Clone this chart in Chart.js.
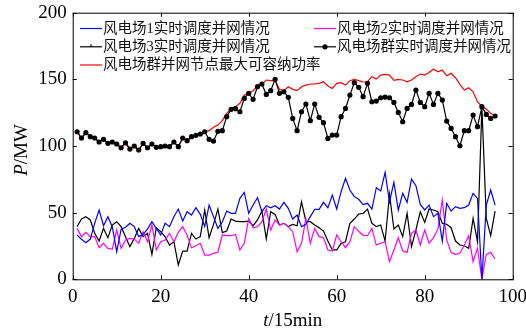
<!DOCTYPE html>
<html>
<head>
<meta charset="utf-8">
<script src="https://cdn.jsdelivr.net/npm/chart.js@4.4.0/dist/chart.umd.min.js"></script>
<style>
  html, body { margin: 0; padding: 0; background: #fff; }
</style>
</head>
<body>
<canvas id="grafica" width="526" height="333"></canvas>
<script>
// ─────────────────────────────────────────
// DATOS (t = intervalo de 15 min, 1..96)
// ─────────────────────────────────────────

const t = Array.from({ length: 96 }, (_, i) => i + 1);

const xTicks = [0, 20, 40, 60, 80, 100];
const yTicks = [0, 50, 100, 150, 200];

const nombres = [
  "风电场1实时调度并网情况",
  "风电场2实时调度并网情况",
  "风电场3实时调度并网情况",
  "风电场群实时调度并网情况",
  "风电场群并网节点最大可容纳功率"
];

const farm1 = [
  33.2, 30, 27.5, 30.2, 42, 52, 40.2, 47, 39.5, 20.7, 37.5, 39, 42, 39.5, 32, 33.7,
  37.7, 43.2, 38.2, 33.2, 42, 39.5, 47, 52.7, 43.7, 50.7, 48.2, 53.7, 48.7, 39.5, 55.7, 47,
  38.2, 43, 51.2, 49.5, 49.5, 60.7, 65.2, 49.5, 55.7, 61.2, 50.7, 55.2, 53.7, 55.2, 52.7, 57.7,
  53.2, 45.2, 48.2, 39.5, 41.2, 47, 52.5, 52.5, 57.7, 53.7, 63.2, 52.7, 65.7, 75.7, 67, 62,
  60, 56, 57, 52.7, 68.7, 66.2, 80.2, 58.2, 72.7, 52, 64.5, 57.7, 75.2, 70.2, 56.2, 52,
  55.7, 47, 49.5, 28.7, 57, 51.2, 54.5, 53.2, 53.7, 55.7, 64.5, 60.7, 0, 55.7, 67, 55.7
];

const farm2 = [
  38.2, 32, 35.2, 32, 32, 23.7, 27, 23.2, 22.7, 37, 23.2, 29.5, 30.7, 30.2, 27, 35.7,
  28.2, 40.7, 22, 28.2, 29.5, 34.5, 28.2, 35.2, 39.5, 33.2, 23.7, 25.2, 27, 18.2, 18.2, 19.5,
  20.5, 33.2, 32.7, 32.7, 33.7, 22, 27, 45.7, 38.7, 39.5, 43.2, 52.7, 37, 44.5, 40.7, 42,
  39.5, 35.7, 20.7, 27, 45.7, 27, 38.2, 32, 31.2, 22, 21.2, 33.2, 28.2, 23.7, 28.2, 39.5,
  36, 33, 32.7, 38.2, 25.7, 27, 28.2, 13.2, 22, 31.2, 21.2, 20.2, 34.5, 37, 25.7, 37,
  27, 31.2, 37.7, 59.5, 29.5, 20.2, 18.7, 19.5, 25.7, 32.7, 13.2, 23.2, 0, 18.7, 20.2, 15.2
];

const farm3 = [
  39.5, 45.2, 47, 44.5, 34.5, 28.7, 38.2, 31.2, 40.7, 43.2, 39.5, 32, 24.5, 30.7, 38.2, 32,
  34.5, 18.7, 38.7, 35.7, 32, 25.7, 28.2, 10.7, 21.2, 21.2, 34.5, 30.2, 32, 52, 31.2, 41.2,
  52.7, 35, 36.2, 45.2, 43.7, 43.2, 43.2, 43.7, 40.2, 44.5, 51.2, 30.2, 50.7, 48.7, 40.7, 42,
  39.5, 41.2, 40.2, 58.2, 43.2, 43.2, 40.7, 38.7, 36.2, 28.7, 22, 22, 27, 28.2, 42, 45.2,
  49, 49.5, 52.7, 42, 39.5, 40.7, 28.7, 63.7, 37.7, 40.7, 32, 49.5, 24.5, 37, 50.7, 42.7,
  52.7, 52, 50.7, 42, 41.2, 38.7, 28.7, 25.7, 25.2, 23.2, 45.7, 28.2, 129, 45.7, 32.7, 51.2
];

const grupo = [
  110.7, 106, 110, 107, 106, 103, 105, 102, 103, 101.5, 98.7, 102.4, 97.7, 100, 97, 102,
  98.7, 101.5, 99, 99.5, 100, 99.5, 103, 99.5, 106, 104, 107, 108, 109, 110.7, 105, 103.7,
  111, 111.5, 122, 127.5, 128, 125.7, 135.7, 139.5, 135, 144.5, 146.5, 138.7, 141.5, 150, 139.5, 140.7,
  136.5, 120.7, 111.5, 125.7, 131.5, 119, 131.5, 121.5, 117.5, 105.7, 108.2, 108.2, 122, 128.2, 138.2, 147.5,
  144, 137, 147, 133.2, 133.7, 136.2, 136.7, 136.2, 132.7, 125.2, 118.2, 128.2, 131.2, 142, 132.7, 129.5,
  139.5, 131.2, 139.5, 134.5, 118.7, 113.2, 107, 100.2, 111.5, 111.5, 123.2, 114.5, 129.5, 123.7, 120.7, 122.5
];

const maximo = [
  110.7, 106, 110, 107, 106, 103, 105, 102, 103, 101.5, 98.7, 102.4, 97.7, 100, 97, 102,
  98.7, 101.5, 99, 99.5, 100, 99.5, 103, 99.5, 106, 104, 107, 108, 109, 110.7, 111.5, 114,
  115.7, 119, 124.5, 128.2, 129.5, 132, 138.2, 139.5, 141.5, 145, 146.5, 149.5, 149, 149, 142.5, 141.5,
  144.5, 142.5, 141.5, 144.5, 145.7, 146.5, 146.5, 147, 148.2, 145, 143.2, 147, 147.5, 145.7, 149, 150,
  149, 148, 148.2, 152, 150.2, 153.2, 153.7, 153.2, 149.2, 150, 149.5, 148.2, 149.5, 152, 154, 153.2,
  155.2, 157.7, 155.7, 157, 152.7, 154.5, 151.2, 146.2, 142, 143.7, 140.7, 133.2, 129.5, 127.7, 124.5, 122.7
];

// ─────────────────────────────────────────
// ESTILO
// ─────────────────────────────────────────

const FUENTE   = "'Liberation Serif', 'Times New Roman', serif";
const FUENTE_L = "'Liberation Serif', 'Noto Sans CJK SC', serif";
const colores  = ["#0000ff", "#ff00ff", "#000000", "#000000", "#ff0000"];

const puntos = arr => arr.map((v, i) => ({ x: t[i], y: v }));

// marco con ticks hacia dentro, títulos y leyenda
const marcoPlugin = {
  id: "marco",
  afterDraw(chart) {
    const { ctx, chartArea: a, scales: { x, y } } = chart;
    ctx.save();
    ctx.strokeStyle = "#000";
    ctx.lineWidth = 1;
    ctx.strokeRect(a.left + 0.5, a.top + 0.5, a.right - a.left, a.bottom - a.top);

    ctx.beginPath();
    x.ticks.forEach(tk => {
      const px = Math.round(x.getPixelForValue(tk.value)) + 0.5;
      ctx.moveTo(px, a.bottom); ctx.lineTo(px, a.bottom - 4);
      ctx.moveTo(px, a.top);    ctx.lineTo(px, a.top + 4);
    });
    y.ticks.forEach(tk => {
      const py = Math.round(y.getPixelForValue(tk.value)) + 0.5;
      ctx.moveTo(a.left, py);  ctx.lineTo(a.left + 4, py);
      ctx.moveTo(a.right, py); ctx.lineTo(a.right - 4, py);
    });
    ctx.stroke();

    // títulos de ejes (variable en cursiva)
    ctx.fillStyle = "#000";
    ctx.textBaseline = "middle";
    const titulo = (cx, cy, rot, ital, resto) => {
      ctx.save();
      ctx.translate(cx, cy);
      ctx.rotate(rot);
      ctx.font = "italic 19px " + FUENTE;
      const w1 = ctx.measureText(ital).width;
      ctx.font = "19px " + FUENTE;
      const w2 = ctx.measureText(resto).width;
      ctx.textAlign = "left";
      ctx.font = "italic 19px " + FUENTE;
      ctx.fillText(ital, -(w1 + w2) / 2, 0);
      ctx.font = "19px " + FUENTE;
      ctx.fillText(resto, -(w1 + w2) / 2 + w1, 0);
      ctx.restore();
    };
    titulo((a.left + a.right) / 2, 321, 0, "t", "/15min");
    titulo(22, 150, -Math.PI / 2, "P", "/MW");

    // leyenda en dos columnas
    const items = [
      { i: 0, cx: 80,  cy: 28.5 },
      { i: 1, cx: 314, cy: 28.5 },
      { i: 2, cx: 80,  cy: 46.8 },
      { i: 3, cx: 314, cy: 46.8 },
      { i: 4, cx: 80,  cy: 65 }
    ];
    ctx.font = "14.5px " + FUENTE_L;
    ctx.textAlign = "left";
    items.forEach(it => {
      const ds = chart.data.datasets[it.i];
      ctx.strokeStyle = ds.borderColor;
      ctx.lineWidth = 1.2;
      ctx.beginPath();
      ctx.moveTo(it.cx, it.cy); ctx.lineTo(it.cx + 22, it.cy);
      ctx.stroke();
      if (it.i === 3) {
        ctx.fillStyle = "#000";
        ctx.beginPath(); ctx.arc(it.cx + 11, it.cy, 2.6, 0, Math.PI * 2); ctx.fill();
      }
      if (it.i === 2) {
        ctx.beginPath(); ctx.moveTo(it.cx + 11, it.cy); ctx.lineTo(it.cx + 11, it.cy - 2.5); ctx.stroke();
      }
      ctx.fillStyle = "#111";
      ctx.fillText(ds.label, it.cx + 23, it.cy + 0.5);
    });
    ctx.restore();
  }
};

// ─────────────────────────────────────────
// GRÁFICA
// ─────────────────────────────────────────

const serie = (idx, data, extra) => Object.assign({
  label: nombres[idx],
  data: puntos(data),
  borderColor: colores[idx],
  backgroundColor: colores[idx],
  borderWidth: 1.2,
  pointRadius: 0,
  tension: 0,
  fill: false
}, extra || {});

new Chart(document.getElementById("grafica"), {
  type: "line",
  data: {
    datasets: [
      serie(0, farm1),
      serie(1, farm2),
      serie(2, farm3),
      serie(3, grupo, { pointRadius: 2.6, pointBackgroundColor: "#000", pointBorderWidth: 0 }),
      serie(4, maximo)
    ]
  },
  options: {
    responsive: false,
    animation: false,
    devicePixelRatio: 1,
    layout: { padding: { top: 12.7, right: 13.3, left: 0, bottom: 0 } },
    plugins: {
      legend:  { display: false },
      tooltip: { enabled: false }
    },
    scales: {
      x: {
        type: "linear",
        min: 0, max: 100,
        afterBuildTicks: s => { s.ticks = xTicks.map(v => ({ value: v })); },
        ticks: { color: "#000", font: { family: FUENTE, size: 19 }, padding: 6, maxRotation: 0 },
        grid: { display: false, drawTicks: false },
        border: { display: false },
        afterFit: s => { s.height = 333 - 279.3; s.paddingLeft = 0; s.paddingRight = 0; }
      },
      y: {
        min: 0, max: 200,
        afterBuildTicks: s => { s.ticks = yTicks.map(v => ({ value: v })); },
        ticks: { color: "#000", font: { family: FUENTE, size: 19 }, padding: 6 },
        grid: { display: false, drawTicks: false },
        border: { display: false },
        afterFit: s => { s.width = 72.7; s.paddingTop = 0; s.paddingBottom = 0; }
      }
    }
  },
  plugins: [marcoPlugin]
});
</script>
</body>
</html>
